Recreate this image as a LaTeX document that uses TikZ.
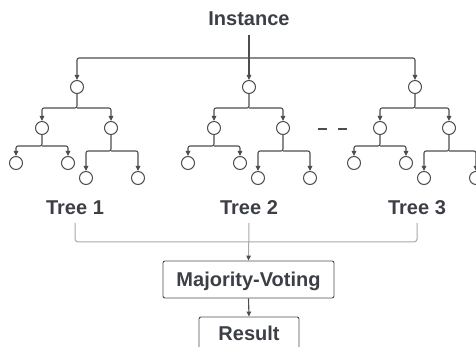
\documentclass[tikz,border=0pt]{standalone}
\usepackage{fontspec}
\setmainfont{Liberation Sans}
\usetikzlibrary{arrows.meta}
\definecolor{ink}{HTML}{3C3F46}
\definecolor{edgec}{HTML}{4D4D4D}
\definecolor{soft}{HTML}{A8A8A8}
\begin{document}
\begin{tikzpicture}[x=1pt,y=-1pt,
  lbl/.style={font=\bfseries\fontsize{20}{24}\selectfont, text=ink, inner sep=0pt, anchor=base},
  leaf/.style={circle, draw=edgec, line width=1pt, minimum size=13pt, inner sep=0pt},
  tip/.style={-{Triangle[length=5pt,width=4.5pt,color=edgec]}},
  arr/.style={draw=edgec, line width=1.1pt, rounded corners=2pt, tip},
  plain/.style={draw=edgec, line width=1.1pt},
  softline/.style={draw=soft, line width=1pt, rounded corners=3pt},
  box/.style={draw=edgec, line width=0.9pt, rounded corners=2pt, inner sep=0pt,
    font=\bfseries\fontsize{20}{24}\selectfont, text=ink, text height=14.4pt, text depth=0pt},
  dashmark/.style={draw=edgec, line width=2pt}]
\clip (0,0) rectangle (476,347);
\fill[white] (0,0) rectangle (476,347);
% levels
\coordinate (top) at (0,58);
\coordinate (hr) at (0,108);
\coordinate (ha) at (0,146);
\coordinate (hb) at (0,151);
\coordinate (bus) at (0,242);
% title
\node[lbl] (inst) at (249,25.7) {Instance};
% trees
\foreach \t/\dx in {1/0, 2/172, 3/338}{
  \node[leaf] (r\t) at (77+\dx,87) {};
  \node[leaf] (a\t) at (42+\dx,128) {};
  \node[leaf] (b\t) at (111+\dx,128) {};
  \node[leaf] (c\t) at (16+\dx,163) {};
  \node[leaf] (d\t) at (68+\dx,163) {};
  \node[leaf] (e\t) at (86+\dx,178) {};
  \node[leaf] (f\t) at (138+\dx,178) {};
  \draw[arr] (r\t.south) -- (r\t.south |- hr) -| (a\t.north);
  \draw[arr] (r\t.south |- hr) -| (b\t.north);
  \draw[arr] (a\t.south) -- (a\t.south |- ha) -| (c\t.north);
  \draw[arr] (a\t.south |- ha) -| (d\t.north);
  \draw[arr] (b\t.south) -- (b\t.south |- hb) -| (e\t.north);
  \draw[arr] (b\t.south |- hb) -| (f\t.north);
}
% instance connectors
\draw[arr] ([yshift=-9pt]inst.base) -- (r2.north);
\draw[arr] (inst.base |- top) -| (r1.north);
\draw[arr] (inst.base |- top) -| (r3.north);
% dashes
\draw[dashmark] (318,129) -- (327,129);
\draw[dashmark] (338,129) -- (347,129);
% tree labels
\node[lbl] (t1) at (75,215) {Tree 1};
\node[lbl] (t2) at (249,215) {Tree 2};
\node[lbl] (t3) at (417,215) {Tree 3};
% boxes
\node[box, minimum width=171pt, minimum height=37pt] (mv) at (248.5,279.5) {Majority-Voting};
\node[box, minimum width=100pt, minimum height=33pt] (res) at (249,333.5) {Result};
% bracket
\draw[softline] ([yshift=-8pt]t1.base) -- (t1.base |- bus) -- (t3.base |- bus) -- ([yshift=-8pt]t3.base);
\draw[draw=soft, line width=1pt, tip] ([yshift=-8pt]t2.base) -- (mv.north);
\draw[plain, tip] (mv.south) -- (res.north);
\end{tikzpicture}
\end{document}
